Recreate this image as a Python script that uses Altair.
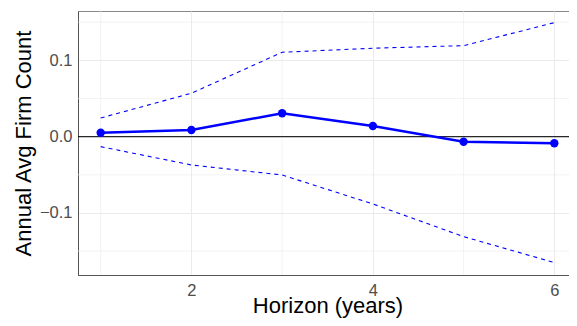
import altair as alt
import pandas as pd

horizon = [1, 2, 3, 4, 5, 6]
estimate = [0.0052, 0.0088, 0.0307, 0.0140, -0.0066, -0.0087]
upper = [0.0245, 0.0569, 0.1106, 0.1159, 0.1193, 0.1494]
lower = [-0.0131, -0.0371, -0.0502, -0.0882, -0.1310, -0.1650]

minor_x = [1, 3, 5]
minor_y = [-0.15, -0.05, 0.05, 0.15]

df = pd.DataFrame({"h": horizon, "est": estimate, "up": upper, "lo": lower})
ci = df.melt(id_vars="h", value_vars=["up", "lo"], var_name="band", value_name="v")

FONT = "Liberation Sans"
BLUE = "#0000FF"
GRID = "#EBEBEB"

xs = alt.Scale(domain=[0.75, 6.25], nice=False, zero=False)
ys = alt.Scale(domain=[-0.1813, 0.1647], nice=False, zero=False)

xaxis = alt.Axis(values=[2, 4, 6], format="d", title="Horizon (years)", grid=True,
                 gridColor=GRID, ticks=False, labelPadding=7, domainColor="#555555")
yaxis = alt.Axis(values=[-0.1, 0.0, 0.1], format=".1f", title="Annual Avg Firm Count",
                 grid=True, gridColor=GRID, ticks=False, labelPadding=6, domainColor="#555555")

minor_v = alt.Chart(pd.DataFrame({"x": minor_x})).mark_rule(color=GRID, strokeWidth=0.6).encode(
    x=alt.X("x:Q", scale=xs, axis=xaxis))
minor_h = alt.Chart(pd.DataFrame({"y": minor_y})).mark_rule(color=GRID, strokeWidth=0.6).encode(
    y=alt.Y("y:Q", scale=ys, axis=yaxis))
zero = alt.Chart(pd.DataFrame({"y": [0.0]})).mark_rule(color="black", strokeWidth=1).encode(
    y=alt.Y("y:Q", scale=ys))

bands = alt.Chart(ci).mark_line(color=BLUE, strokeWidth=1.1, strokeDash=[4, 4]).encode(
    x=alt.X("h:Q", scale=xs), y=alt.Y("v:Q", scale=ys), detail="band:N")
line = alt.Chart(df).mark_line(color=BLUE, strokeWidth=2.5).encode(
    x=alt.X("h:Q", scale=xs), y=alt.Y("est:Q", scale=ys))
pts = alt.Chart(df).mark_circle(color=BLUE, size=70, opacity=1).encode(
    x=alt.X("h:Q", scale=xs), y=alt.Y("est:Q", scale=ys))

chart = alt.layer(minor_v, minor_h, zero, bands, line, pts).properties(
    width=499, height=264,
    autosize=alt.AutoSizeParams(type="none"),
    padding={"left": 70, "top": 3, "right": -8, "bottom": 51},
).configure_view(stroke="#888888", strokeWidth=1).configure_axis(
    labelFont=FONT, titleFont=FONT, labelFontSize=16.5, titleFontSize=22,
    labelColor="#4D4D4D", titleColor="black", titleFontWeight="normal",
).configure_axisY(titlePadding=4).configure_axisX(titlePadding=-3)

chart.save("out.html", embed_options={"renderer": "svg", "actions": False})
